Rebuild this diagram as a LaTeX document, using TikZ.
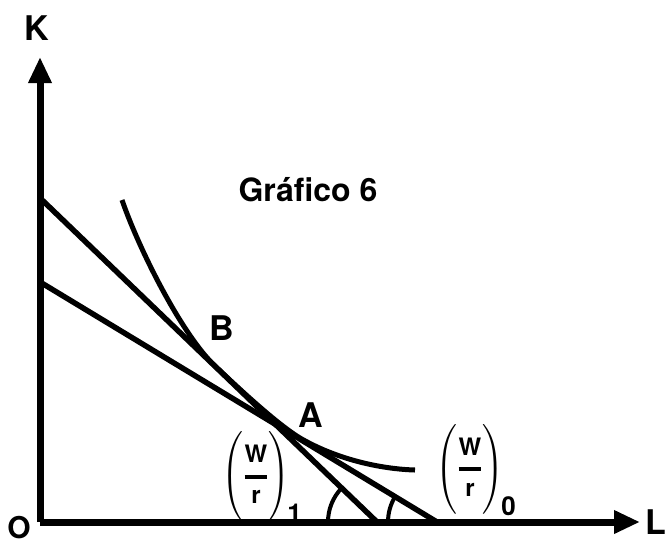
\documentclass[tikz,border=0pt]{standalone}
\usepackage{amsmath}
\usepackage{fontspec}
\setmainfont{TeX Gyre Heros}
\usepackage{tikz}
\usetikzlibrary{arrows.meta}

\begin{document}
\begin{tikzpicture}[x=1pt, y=-1pt,
    axis/.style={line width=7pt, -{Triangle[length=26pt, width=22pt]}},
    budget/.style={line width=5.5pt},
    isoquant/.style={line width=5pt},
    angle/.style={line width=4pt},
    lbl/.style={font=\fontsize{34}{34}\selectfont\bfseries, inner sep=0pt},
    ratio/.style={font=\fontsize{24}{24}\selectfont\bfseries, inner sep=0pt},
]
\useasboundingbox (0,0) rectangle (668,546);

% axes
\coordinate (O) at (40,522);
\coordinate (Ktip) at (40,57);
\coordinate (Ltip) at (640,522);
\draw[axis] (O) -- (Ktip);
\draw[axis] (O) -- (Ltip);
\node[lbl] (K) at (37,28) {K};
\node[lbl] (L) at (656,522) {L};
\node[lbl, font=\fontsize{30}{30}\selectfont\bfseries] (origin) at (19,528) {O};

% price lines
\coordinate (k1) at (40,198);
\coordinate (l1) at (377,522);
\coordinate (k0) at (40,282);
\coordinate (l0) at (437,522);
\draw[budget] (k1) -- (l1);
\draw[budget] (k0) -- (l0);

% isoquant
\coordinate (q0) at (122,200);
\coordinate (tB) at (215,366);
\coordinate (tA) at (300,438);
\coordinate (q1) at (415,470);
\draw[isoquant] (q0) .. controls (140,252) and (183,336) .. (tB)
  .. controls (254,403) and (282,427) .. (tA)
  .. controls (336,459) and (380,469) .. (q1);

% angles
\draw[angle] (l1) ++(-49,0) arc[start angle=180, end angle=224, radius=49];
\draw[angle] (l0) ++(-49,0) arc[start angle=180, end angle=211, radius=49];

% labels
\node[lbl] (B) at (222,328) {B};
\node[lbl] (A) at (311,415) {A};
\node[font=\fontsize{32}{32}\selectfont\bfseries, inner sep=0pt] (title) at (308,190) {Gráfico 6};
\node[ratio] (r1) at (262,477) {\(\left(\rule[-34pt]{0pt}{68pt}\genfrac{}{}{4pt}{0}{\text{W}}{\text{r}}\right)_{\!\mbox{\fontsize{26}{26}\selectfont 1}}\)};
\node[ratio] (r0) at (476,470) {\(\left(\rule[-34pt]{0pt}{68pt}\genfrac{}{}{4pt}{0}{\text{W}}{\text{r}}\right)_{\!\mbox{\fontsize{26}{26}\selectfont 0}}\)};
\end{tikzpicture}
\end{document}
